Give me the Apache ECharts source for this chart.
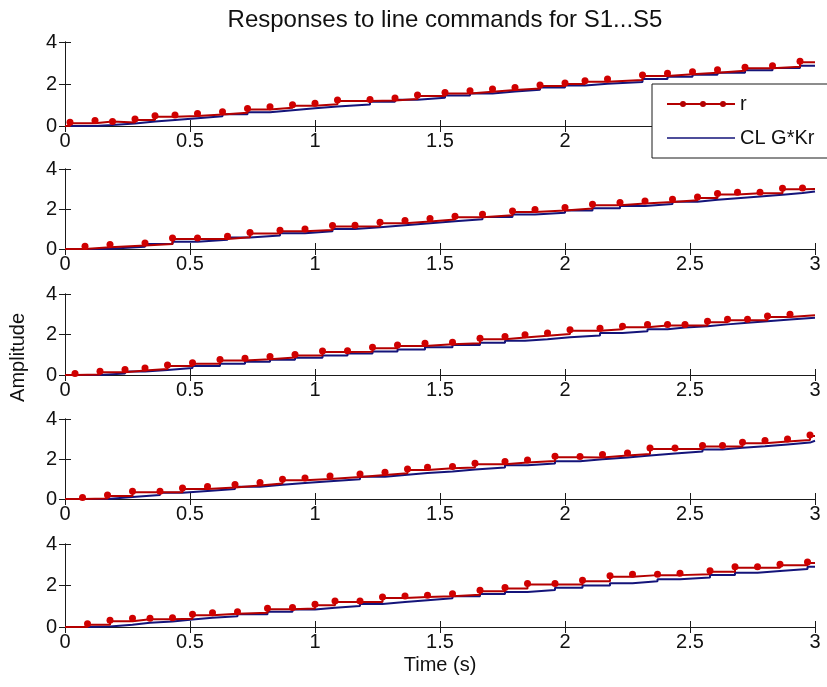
<!DOCTYPE html>
<html>
<head>
<meta charset="utf-8">
<script src="https://cdn.jsdelivr.net/npm/echarts@6/dist/echarts.min.js"></script>
<style>html,body{margin:0;padding:0;background:#fff;}#c{width:827px;height:687px;}</style>
</head>
<body>
<div id="c"></div>
<script>
// Tick labels
const xTicks = [0, 0.5, 1, 1.5, 2, 2.5, 3];
const yTicks = [0, 2, 4];
const titleText = 'Responses to line commands for S1...S5';
const seriesNames = ['r', 'CL G*Kr'];

// Panel 1 (S1)
const rT1 = [0.02,0.12,0.19,0.28,0.36,0.44,0.53,0.63,0.73,0.82,0.91,1.00,1.09,1.22,1.32,1.41,1.52,1.62,1.71,1.80,1.90,2.00,2.08,2.17,2.31,2.41,2.51,2.61,2.72,2.83,2.94];
const rV1 = [0.13,0.21,0.17,0.29,0.44,0.48,0.55,0.63,0.79,0.87,0.97,1.03,1.19,1.22,1.29,1.43,1.55,1.63,1.71,1.79,1.90,2.00,2.11,2.19,2.38,2.46,2.54,2.63,2.75,2.82,3.03];
const bV1 = [0.00,0.05,0.12,0.21,0.29,0.37,0.46,0.56,0.66,0.75,0.84,0.93,1.02,1.15,1.25,1.34,1.45,1.55,1.64,1.73,1.83,1.93,2.01,2.10,2.24,2.34,2.44,2.54,2.65,2.76,2.87];
// Panel 2 (S2)
const rT2 = [0.08,0.18,0.32,0.43,0.53,0.65,0.74,0.86,0.96,1.07,1.16,1.26,1.36,1.46,1.56,1.67,1.79,1.88,2.00,2.11,2.22,2.32,2.43,2.53,2.61,2.69,2.78,2.87,2.95];
const rV2 = [0.09,0.17,0.25,0.50,0.50,0.59,0.77,0.89,0.95,1.12,1.14,1.29,1.37,1.47,1.59,1.69,1.85,1.92,2.02,2.19,2.27,2.35,2.44,2.55,2.72,2.79,2.79,2.99,3.00];
const bV2 = [0.01,0.11,0.25,0.36,0.46,0.58,0.67,0.79,0.89,1.00,1.09,1.19,1.29,1.39,1.49,1.60,1.72,1.81,1.93,2.04,2.15,2.25,2.36,2.46,2.54,2.62,2.71,2.80,2.88];
// Panel 3 (S3)
const rT3 = [0.04,0.14,0.24,0.32,0.41,0.51,0.62,0.72,0.82,0.92,1.03,1.13,1.23,1.33,1.44,1.55,1.66,1.76,1.84,1.93,2.02,2.14,2.23,2.33,2.41,2.48,2.57,2.65,2.73,2.81,2.90];
const rV3 = [0.03,0.13,0.22,0.30,0.45,0.56,0.71,0.78,0.86,0.96,1.14,1.15,1.32,1.43,1.52,1.57,1.76,1.85,1.94,2.03,2.18,2.26,2.36,2.44,2.44,2.45,2.60,2.70,2.70,2.87,2.95];
const bV3 = [0.00,0.07,0.17,0.25,0.34,0.44,0.55,0.65,0.75,0.85,0.96,1.06,1.16,1.26,1.37,1.48,1.59,1.69,1.77,1.86,1.95,2.07,2.16,2.26,2.34,2.41,2.50,2.58,2.66,2.74,2.83];
// Panel 4 (S4)
const rT4 = [0.07,0.17,0.27,0.38,0.47,0.57,0.68,0.78,0.87,0.96,1.06,1.18,1.28,1.37,1.45,1.55,1.64,1.76,1.85,1.96,2.06,2.15,2.25,2.34,2.44,2.55,2.63,2.71,2.80,2.89,2.98];
const rV4 = [0.02,0.15,0.34,0.34,0.50,0.57,0.67,0.77,0.94,1.00,1.10,1.20,1.29,1.45,1.54,1.57,1.74,1.82,1.90,2.09,2.07,2.17,2.25,2.50,2.50,2.62,2.62,2.79,2.87,2.95,3.15];
const bV4 = [0.00,0.10,0.20,0.31,0.40,0.50,0.61,0.71,0.80,0.89,0.99,1.11,1.21,1.30,1.38,1.48,1.57,1.69,1.78,1.89,1.99,2.08,2.18,2.27,2.37,2.48,2.56,2.64,2.73,2.82,2.91];
// Panel 5 (S5)
const rT5 = [0.09,0.18,0.27,0.34,0.43,0.51,0.59,0.69,0.81,0.91,1.00,1.08,1.18,1.27,1.36,1.45,1.55,1.66,1.76,1.85,1.96,2.07,2.18,2.27,2.37,2.46,2.58,2.68,2.77,2.86,2.97];
const rV5 = [0.11,0.28,0.37,0.37,0.40,0.57,0.64,0.69,0.86,0.89,1.05,1.21,1.21,1.40,1.45,1.48,1.56,1.72,1.85,2.05,2.05,2.21,2.42,2.50,2.50,2.54,2.66,2.85,2.85,2.98,3.09];
const bV5 = [0.02,0.11,0.20,0.27,0.36,0.44,0.52,0.62,0.74,0.84,0.93,1.01,1.11,1.20,1.29,1.38,1.48,1.59,1.69,1.78,1.89,2.00,2.11,2.20,2.30,2.39,2.51,2.61,2.70,2.79,2.90];

const panels = [
  {t: rT1, r: rV1, b: bV1},
  {t: rT2, r: rV2, b: bV2},
  {t: rT3, r: rV3, b: bV3},
  {t: rT4, r: rV4, b: bV4},
  {t: rT5, r: rV5, b: bV5}
];

const FONT = "'Liberation Sans', Arial, Helvetica, sans-serif";
const FS = 20;
const TXT = '#111';
const gridBox = [[42,126],[169,249],[294,375],[419,499],[544,627]];
const xMin = xTicks[0], xMax = xTicks[xTicks.length-1];
const yMin = yTicks[0], yMax = yTicks[yTicks.length-1];

const grids = [], xAxes = [], yAxes = [], series = [];
const axisLine = {show: true, lineStyle: {color: '#1a1a1a', width: 1}};
const tick = {show: true, inside: true, length: 6, lineStyle: {color: '#1a1a1a', width: 1}};

panels.forEach((p, i) => {
  grids.push({left: 65, right: 12, top: gridBox[i][0], height: gridBox[i][1] - gridBox[i][0], containLabel: false});
  const xb = {
    type: 'value', gridIndex: i, min: xMin, max: xMax, interval: xTicks[1] - xTicks[0], position: 'bottom',
    axisLine: axisLine, axisTick: tick, splitLine: {show: false},
    axisLabel: {show: true, margin: 5, color: TXT, fontFamily: FONT, fontSize: FS}
  };
  if (i === panels.length - 1) {
    xb.name = 'Time (s)'; xb.nameLocation = 'middle'; xb.nameGap = 28;
    xb.nameTextStyle = {color: TXT, fontFamily: FONT, fontSize: FS};
  }
  xAxes.push(xb);
  xAxes.push({
    type: 'value', gridIndex: i, min: xMin, max: xMax, interval: xTicks[1] - xTicks[0], position: 'top',
    axisLine: axisLine, axisTick: tick, splitLine: {show: false}, axisLabel: {show: false}
  });
  yAxes.push({
    type: 'value', gridIndex: i, min: yMin, max: yMax, interval: yTicks[1] - yTicks[0], position: 'left',
    axisLine: axisLine, axisTick: tick, splitLine: {show: false},
    axisLabel: {show: true, margin: 8, color: TXT, fontFamily: FONT, fontSize: FS}
  });
  yAxes.push({
    type: 'value', gridIndex: i, min: yMin, max: yMax, interval: yTicks[1] - yTicks[0], position: 'right',
    axisLine: axisLine, axisTick: tick, splitLine: {show: false}, axisLabel: {show: false}
  });

  const blueData = [[0, 0]].concat(p.t.map((t, k) => [t, p.b[k]]));
  blueData.push([xMax, p.b[p.b.length - 1]]);
  const redData = [{value: [0, 0], symbol: 'none'}].concat(p.t.map((t, k) => [t, p.r[k]]));
  redData.push({value: [xMax, p.r[p.r.length - 1]], symbol: 'none'});

  series.push({
    name: seriesNames[1], type: 'line', xAxisIndex: 2*i, yAxisIndex: 2*i, step: 'end',
    data: blueData, symbol: 'none', silent: true, animation: false,
    lineStyle: {color: '#14147a', width: 2}, itemStyle: {color: '#14147a'}, z: 2
  });
  series.push({
    name: seriesNames[0], type: 'line', xAxisIndex: 2*i, yAxisIndex: 2*i, step: 'end',
    data: redData, symbol: 'circle', symbolSize: 7, symbolOffset: [0, -1], silent: true, animation: false,
    lineStyle: {color: '#b40000', width: 2}, itemStyle: {color: '#d00000'}, z: 3
  });
});

const redIcon = 'path://M0,3 L68,3 L68,5 L0,5 Z M13,4 a3,3 0 1,1 6,0 a3,3 0 1,1 -6,0 Z M33,4 a3,3 0 1,1 6,0 a3,3 0 1,1 -6,0 Z M53,4 a3,3 0 1,1 6,0 a3,3 0 1,1 -6,0 Z';
const blueIcon = 'path://M0,0 L0.05,0 L0.05,0.05 Z M0,3.25 L68,3.25 L68,4.75 L0,4.75 Z M67.95,8 L68,8 L68,7.95 Z';

const option = {
  backgroundColor: '#ffffff',
  animation: false,
  title: {
    text: titleText, left: 440, textAlign: 'center', top: 3,
    textStyle: {color: TXT, fontFamily: FONT, fontSize: 24, fontWeight: 'normal'}
  },
  legend: {
    orient: 'vertical', left: 652, top: 84, width: 200,
    padding: [10, 40, 10, 15], itemGap: 14, itemWidth: 68, itemHeight: 8,
    backgroundColor: '#ffffff', borderColor: '#1a1a1a', borderWidth: 1, borderRadius: 0,
    textStyle: {color: TXT, fontFamily: FONT, fontSize: FS, padding: [0, 0, 0, 0]},
    data: [
      {name: seriesNames[0], icon: redIcon, itemStyle: {color: '#b40000'}},
      {name: seriesNames[1], icon: blueIcon, itemStyle: {color: '#14147a'}}
    ],
    z: 20
  },
  graphic: [{
    type: 'text', left: 8, top: 313, rotation: Math.PI / 2, z: 10,
    style: {text: 'Amplitude', fill: TXT, font: FS + 'px ' + FONT}
  }],
  grid: grids,
  xAxis: xAxes,
  yAxis: yAxes,
  series: series
};

const chart = echarts.init(document.getElementById('c'), null, {renderer: 'canvas'});
chart.setOption(option);
</script>
</body>
</html>
